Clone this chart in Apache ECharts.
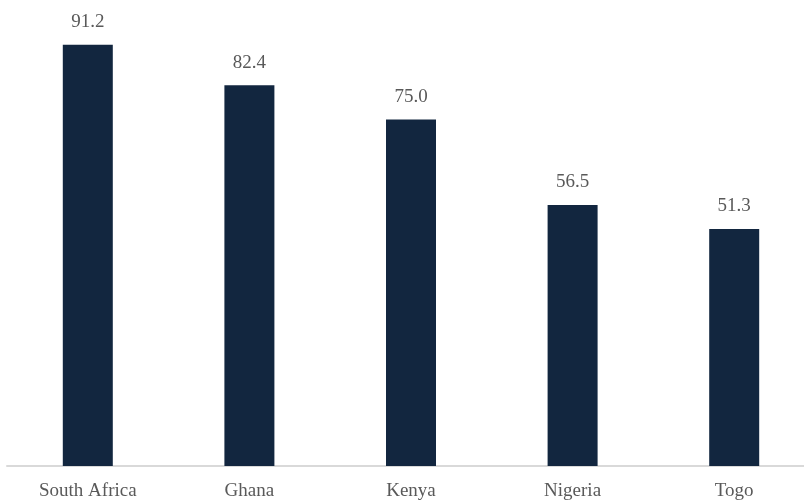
<!DOCTYPE html>
<html>
<head>
<meta charset="utf-8">
<script src="https://cdn.jsdelivr.net/npm/echarts@6/dist/echarts.min.js"></script>
<style>
  html, body { margin: 0; padding: 0; background: #fff; overflow: hidden; }
  #chart { width: 815px; height: 504px; }
</style>
</head>
<body>
<div id="chart"></div>
<script>
var countries = ['South Africa', 'Ghana', 'Kenya', 'Nigeria', 'Togo'];
var values = [91.2, 82.4, 75.0, 56.5, 51.3];

var myChart = echarts.init(document.getElementById('chart'));

var option = {
    animation: false,
    grid: {
        left: 7,
        right: 0,
        top: 4,
        bottom: 38
    },
    xAxis: {
        type: 'category',
        data: countries,
        axisTick: { show: false },
        axisLine: { lineStyle: { color: '#d9d9d9', width: 2 } },
        axisLabel: {
            color: '#595959',
            fontFamily: 'Liberation Serif',
            fontSize: 19,
            margin: 16
        }
    },
    yAxis: {
        type: 'value',
        min: 0,
        max: 100,
        show: false,
        splitLine: { show: false }
    },
    series: [{
        type: 'bar',
        data: values,
        barWidth: 50,
        itemStyle: { color: '#12263f' },
        label: {
            show: true,
            position: 'top',
            distance: 13,
            color: '#595959',
            fontFamily: 'Liberation Serif',
            fontSize: 19,
            formatter: function (p) { return p.value.toFixed(1); }
        }
    }]
};

myChart.setOption(option);
</script>
</body>
</html>
